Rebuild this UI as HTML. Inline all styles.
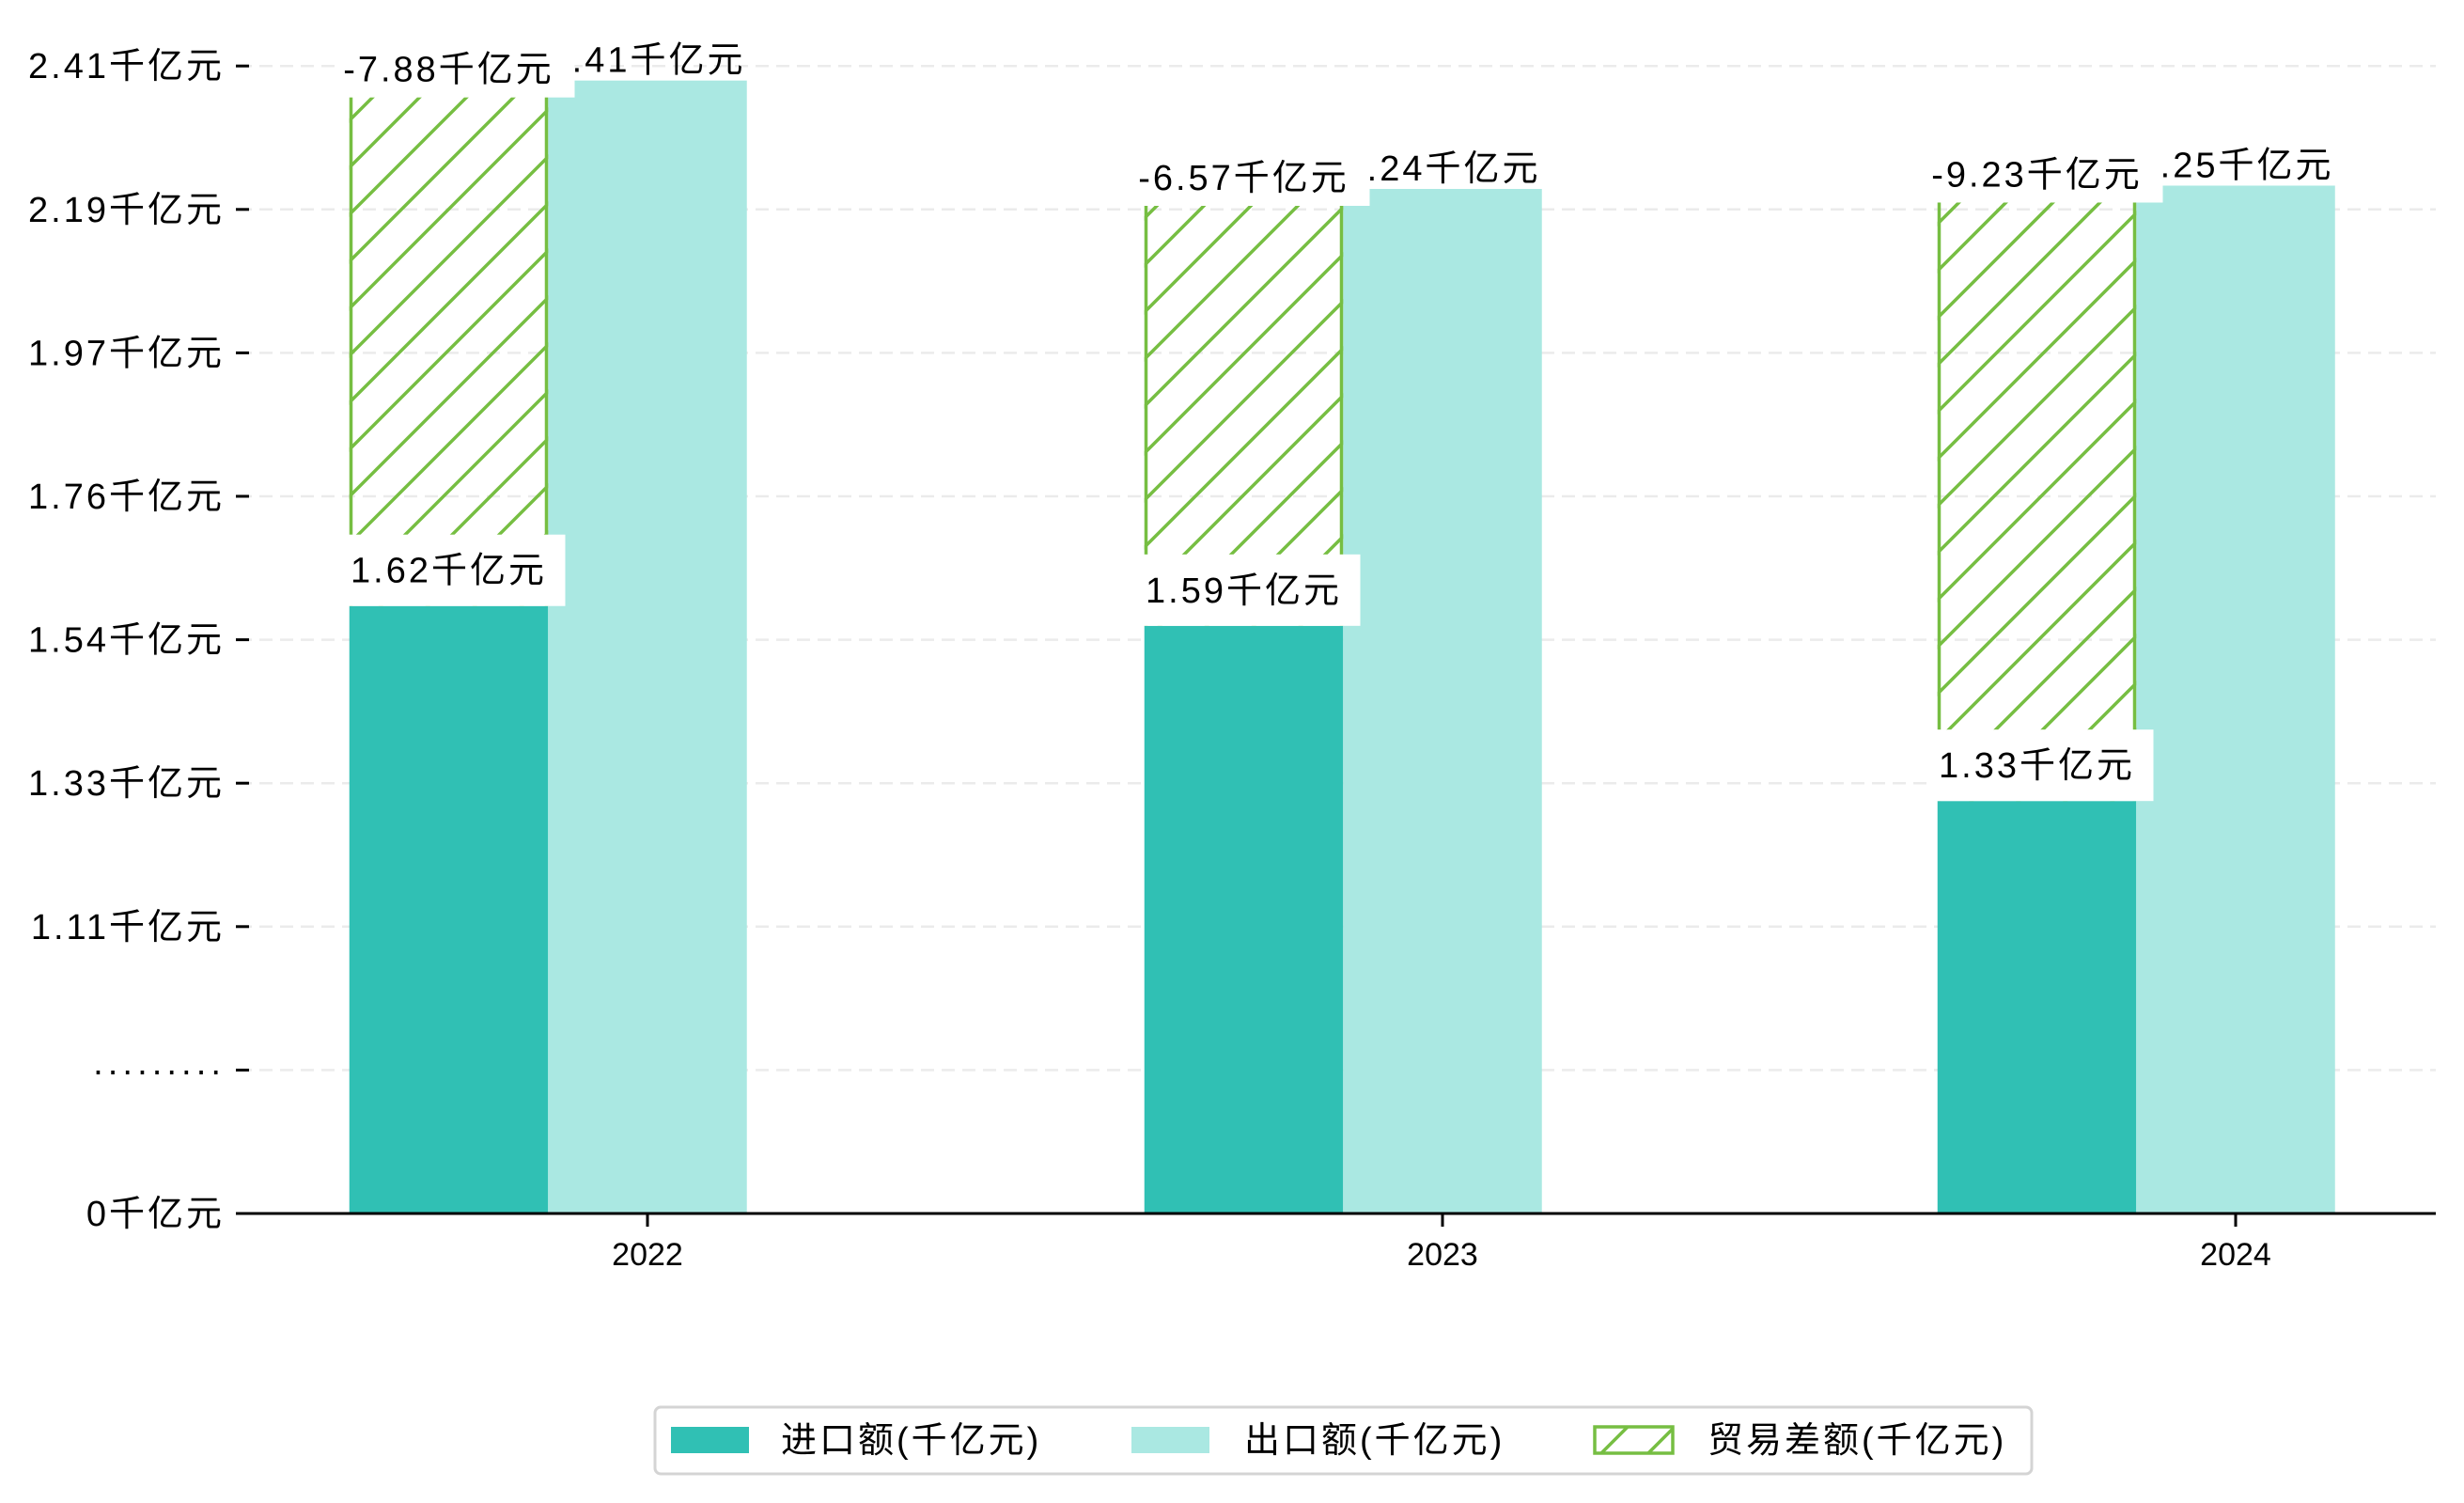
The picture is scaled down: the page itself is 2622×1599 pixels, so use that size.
<!DOCTYPE html>
<html><head><meta charset="utf-8"><style>
html,body{margin:0;padding:0;background:#fff;}
svg{display:block;font-family:"Liberation Sans","Noto Sans CJK SC",sans-serif;}
text{letter-spacing:3px;}
text.xl{letter-spacing:0;}
</style></head><body>
<svg id="chart" width="2622" height="1599" viewBox="0 0 2622 1599" xmlns="http://www.w3.org/2000/svg">
<defs>
<pattern id="hatch" patternUnits="userSpaceOnUse" width="50" height="50">
<path d="M-5,5 L5,-5 M0,50 L50,0 M45,55 L55,45" stroke="#76BE42" stroke-width="3.5"/>
</pattern>
</defs>
<g id="grid"></g>
<g id="bars"></g>
<g id="labels"></g>
<g id="axes"></g>
<g id="legend"></g>
</svg>
<script>
const categories = ["2022", "2023", "2024"];
const importVals = [1.594, 1.564, 1.300];
const exportVals = [2.388, 2.224, 2.229];
const importLabels = ["1.62千亿元", "1.59千亿元", "1.33千亿元"];
const exportLabels = ["2.41千亿元", "2.24千亿元", "2.25千亿元"];
const diffLabels = ["-7.88千亿元", "-6.57千亿元", "-9.23千亿元"];
const tickVals = [0, 0.893, 1.11, 1.327, 1.543, 1.76, 1.977, 2.193, 2.41];
const tickLabels = ["0千亿元", "·········", "1.11千亿元", "1.33千亿元", "1.54千亿元", "1.76千亿元", "1.97千亿元", "2.19千亿元", "2.41千亿元"];

const NS = "http://www.w3.org/2000/svg";
const X0 = 254, X1 = 2592, Y0 = 1291, STEP = 152.6;
const catX = [689, 1535, 2379];
const BW = 211.5;
function yScale(v) {
  for (let i = 0; i < tickVals.length - 1; i++) {
    if (v <= tickVals[i + 1] || i === tickVals.length - 2) {
      const t = (v - tickVals[i]) / (tickVals[i + 1] - tickVals[i]);
      return Y0 - (i + t) * STEP;
    }
  }
}
function xScale(i) { return catX[i]; }
function mk(tag, attrs, parent, text) {
  const e = document.createElementNS(NS, tag);
  for (const k in attrs) e.setAttribute(k, attrs[k]);
  if (text !== undefined) e.textContent = text;
  parent.appendChild(e);
  return e;
}
const grid = document.getElementById('grid');
const bars = document.getElementById('bars');
const labels = document.getElementById('labels');
const axes = document.getElementById('axes');
const legend = document.getElementById('legend');

tickVals.forEach((v, i) => {
  const y = yScale(v);
  if (i > 0) {
    const g = mk('line', {x1: X0, x2: X1, y1: y, y2: y, stroke: '#ebebeb', 'stroke-width': 2.5, 'stroke-dasharray': '14,8'}, grid);
    
    
  }
  const t = mk('line', {x1: 251, x2: 265, y1: y, y2: y, stroke: '#000', 'stroke-width': 3}, axes);
  
  
  const l = mk('text', {x: 239, y: y + 13, 'text-anchor': 'end', 'font-size': 38, fill: '#000'}, axes, tickLabels[i]);
  
  
});

categories.forEach((c, i) => {
  const cx = xScale(i);
  const yi = yScale(importVals[i]), ye = yScale(exportVals[i]);
  const bi = mk('rect', {x: cx - 1.5 * BW, y: yi, width: BW, height: Y0 - yi, fill: '#30C0B4'}, bars);
  
  
  const be = mk('rect', {x: cx - 0.5 * BW, y: ye, width: BW, height: Y0 - ye, fill: '#AAE8E2'}, bars);
  
  
  const bx = cx - 1.5 * BW;
  const bd = mk('rect', {x: bx, y: ye, width: BW, height: yi - ye, fill: 'url(#hatch)'}, bars);
  
  
  const e1 = mk('line', {x1: bx + 1.75, x2: bx + 1.75, y1: ye, y2: yi, stroke: '#76BE42', 'stroke-width': 3.5}, bars);
  
  
  const e2 = mk('line', {x1: bx + BW - 1.75, x2: bx + BW - 1.75, y1: ye, y2: yi, stroke: '#76BE42', 'stroke-width': 3.5}, bars);
  
  

  const el = mk('text', {x: cx, y: ye - 22 + 13, 'text-anchor': 'middle', 'font-size': 38, fill: '#000'}, labels, exportLabels[i]);
  
  
  const dcx = cx - BW;
  const db = mk('rect', {x: dcx - 118, y: ye - 42, width: 252, height: 60, fill: '#fff'}, labels);
  
  
  const dl = mk('text', {x: dcx, y: ye - 12 + 13, 'text-anchor': 'middle', 'font-size': 38, fill: '#000'}, labels, diffLabels[i]);
  
  
  const ib = mk('rect', {x: dcx - 110, y: yi - 76, width: 234, height: 76, fill: '#fff'}, labels);
  
  
  const il = mk('text', {x: dcx, y: yi - 38 + 13, 'text-anchor': 'middle', 'font-size': 38, fill: '#000'}, labels, importLabels[i]);
  
  

  const xt = mk('line', {x1: cx, x2: cx, y1: Y0, y2: Y0 + 14, stroke: '#000', 'stroke-width': 3}, axes);
  
  
  const xl = mk('text', {x: cx, y: Y0 + 55, 'text-anchor': 'middle', 'font-size': 34, fill: '#000', class: 'xl'}, axes, c);
  
  
});
const spine = mk('line', {x1: X0, x2: X1, y1: Y0, y2: Y0, stroke: '#000', 'stroke-width': 3}, axes);



const lb = mk('rect', {x: 697, y: 1497, width: 1465, height: 71, rx: 6, fill: '#fff', stroke: '#d4d4d4', 'stroke-width': 3}, legend);


const legItems = [
  {sx: 714, tx: 831, text: '进口额(千亿元)', fill: '#30C0B4', name: 'legend-import'},
  {sx: 1204, tx: 1324, text: '出口额(千亿元)', fill: '#AAE8E2', name: 'legend-export'},
  {sx: 1697, tx: 1817, text: '贸易差额(千亿元)', fill: 'url(#hatch)', name: 'legend-balance'}
];
legItems.forEach(it => {
  const g = mk('g', {}, legend);
  
  
  const r = mk('rect', {x: it.sx, y: 1518, width: 83, height: 28, fill: it.fill}, g);
  if (it.fill.startsWith('url')) { r.setAttribute('stroke', '#76BE42'); r.setAttribute('stroke-width', 3.5); }
  
  
  const t = mk('text', {x: it.tx, y: 1545, 'font-size': 38, fill: '#000'}, g, it.text);
  
  
});
</script>
</body></html>
